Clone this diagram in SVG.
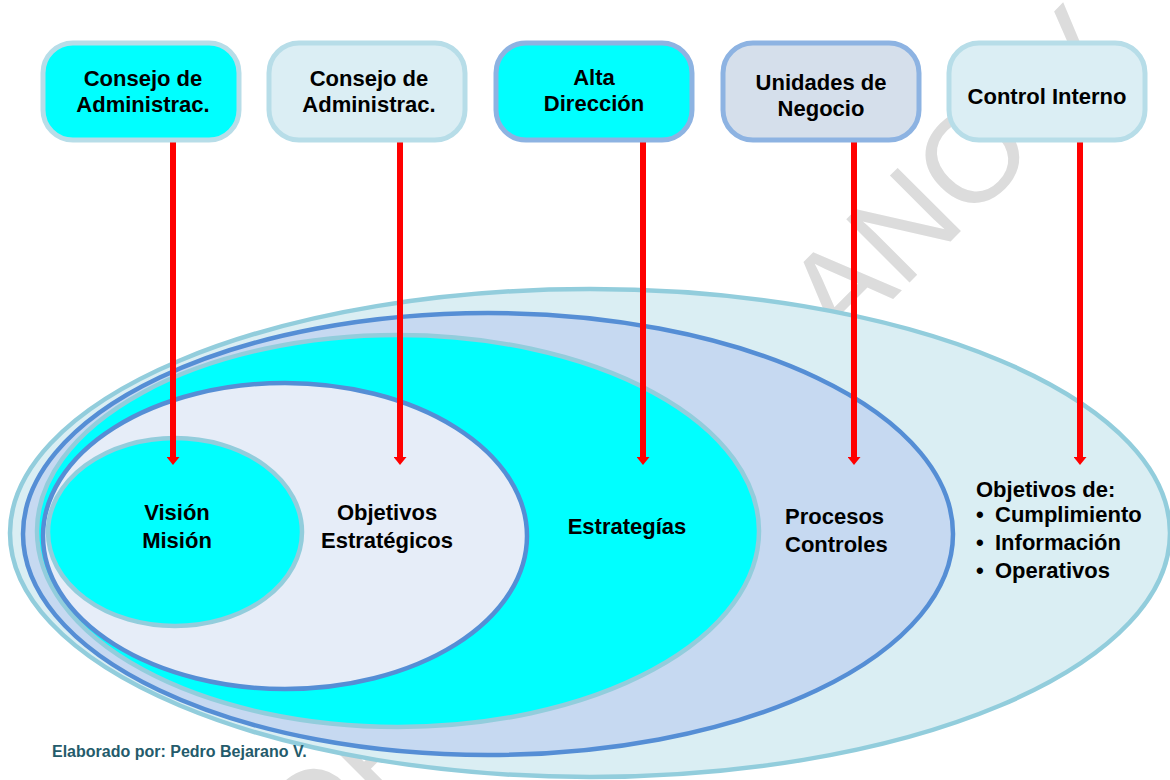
<svg xmlns="http://www.w3.org/2000/svg" width="1170" height="780" viewBox="0 0 1170 780">
  <style>
    .lbl { font-family: "Liberation Sans", Arial, sans-serif; font-weight: bold; font-size: 22px; fill: #000000; }
    .mid { text-anchor: middle; }
    .box { stroke-width: 5; }
    .ring { stroke-width: 4.5; }
    .link { stroke: #FF0000; stroke-width: 6; fill: none; }
  </style>
  <defs>
    <!-- arrowhead drawn along +x so orient="auto" turns it to the line direction -->
    <marker id="head" viewBox="0 0 8 13" refX="0" refY="6.5" markerUnits="userSpaceOnUse" markerWidth="8" markerHeight="13" orient="auto">
      <path d="M0,0 L8,6.5 L0,13 Z" fill="#FF0000"/>
    </marker>
  </defs>

  <rect x="0" y="0" width="1170" height="780" fill="#FFFFFF"/>

  <!-- faint diagonal watermark -->
  <text x="0" y="0" transform="translate(192,1000) rotate(-45)" font-family="Liberation Sans, Arial, sans-serif" font-size="130" fill="#DCDCDC">PEDRO BEJARANO V.</text>

  <!-- nested scope ellipses, outermost first -->
  <g id="scope-control-interno">
    <ellipse class="ring" cx="590" cy="533" rx="580" ry="244" fill="#DAEEF3" stroke="#92CDDC"/>
  </g>
  <g id="scope-unidades">
    <ellipse class="ring" cx="488" cy="534" rx="465" ry="221" fill="#C6D9F1" stroke="#558ED5"/>
  </g>
  <g id="scope-alta-direccion">
    <ellipse class="ring" cx="398" cy="531" rx="361" ry="196" fill="#00FFFF" stroke="#92CDDC"/>
  </g>
  <g id="scope-objetivos">
    <ellipse class="ring" cx="285" cy="536" rx="242" ry="153" fill="#E6EDF8" stroke="#558ED5"/>
  </g>
  <g id="scope-vision">
    <ellipse class="ring" cx="175" cy="532" rx="127" ry="94" fill="#00FFFF" stroke="#92CDDC"/>
  </g>

  <!-- ellipse labels -->
  <g id="label-vision">
    <text class="lbl mid" x="177" y="520">Visión</text>
    <text class="lbl mid" x="177" y="548">Misión</text>
  </g>
  <g id="label-objetivos">
    <text class="lbl mid" x="387" y="520">Objetivos</text>
    <text class="lbl mid" x="387" y="548">Estratégicos</text>
  </g>
  <g id="label-estrategias">
    <text class="lbl mid" x="627" y="534">Estrategías</text>
  </g>
  <g id="label-procesos">
    <text class="lbl" x="785" y="524">Procesos</text>
    <text class="lbl" x="785" y="552">Controles</text>
  </g>
  <g id="label-control">
    <text class="lbl" x="976" y="497">Objetivos de:</text>
    <text class="lbl" x="976" y="522">•</text>
    <text class="lbl" x="995" y="522">Cumplimiento</text>
    <text class="lbl" x="976" y="550">•</text>
    <text class="lbl" x="995" y="550">Información</text>
    <text class="lbl" x="976" y="578">•</text>
    <text class="lbl" x="995" y="578">Operativos</text>
  </g>

  <!-- connectors -->
  <g id="connectors">
    <line class="link" x1="173" y1="142" x2="173" y2="457" marker-end="url(#head)"/>
    <line class="link" x1="400" y1="142" x2="400" y2="457" marker-end="url(#head)"/>
    <line class="link" x1="643" y1="142" x2="643" y2="457" marker-end="url(#head)"/>
    <line class="link" x1="854" y1="142" x2="854" y2="457" marker-end="url(#head)"/>
    <line class="link" x1="1080" y1="142" x2="1080" y2="457" marker-end="url(#head)"/>
  </g>

  <!-- top nodes -->
  <g id="node-consejo-1">
    <rect class="box" x="43" y="43" width="196" height="97" rx="30" fill="#00FFFF" stroke="#B7DDE8"/>
    <text class="lbl mid" x="143" y="86">Consejo de</text>
    <text class="lbl mid" x="143" y="112">Administrac.</text>
  </g>
  <g id="node-consejo-2">
    <rect class="box" x="269" y="43" width="196" height="97" rx="30" fill="#DBEEF4" stroke="#B7DDE8"/>
    <text class="lbl mid" x="369" y="86">Consejo de</text>
    <text class="lbl mid" x="369" y="112">Administrac.</text>
  </g>
  <g id="node-alta-direccion">
    <rect class="box" x="496" y="43" width="196" height="97" rx="30" fill="#00FFFF" stroke="#8DB3E2"/>
    <text class="lbl mid" x="594" y="85">Alta</text>
    <text class="lbl mid" x="594" y="111">Dirección</text>
  </g>
  <g id="node-unidades">
    <rect class="box" x="723" y="43" width="196" height="97" rx="30" fill="#D5DFEB" stroke="#8DB3E2"/>
    <text class="lbl mid" x="821" y="90">Unidades de</text>
    <text class="lbl mid" x="821" y="116">Negocio</text>
  </g>
  <g id="node-control-interno">
    <rect class="box" x="949" y="43" width="196" height="97" rx="30" fill="#DBEEF4" stroke="#B7DDE8"/>
    <text class="lbl mid" x="1047" y="104">Control Interno</text>
  </g>

  <!-- author note -->
  <text x="52" y="757" font-family="Liberation Sans, Arial, sans-serif" font-weight="bold" font-size="16" fill="#245B6B">Elaborado por: Pedro Bejarano V.</text>
</svg>
